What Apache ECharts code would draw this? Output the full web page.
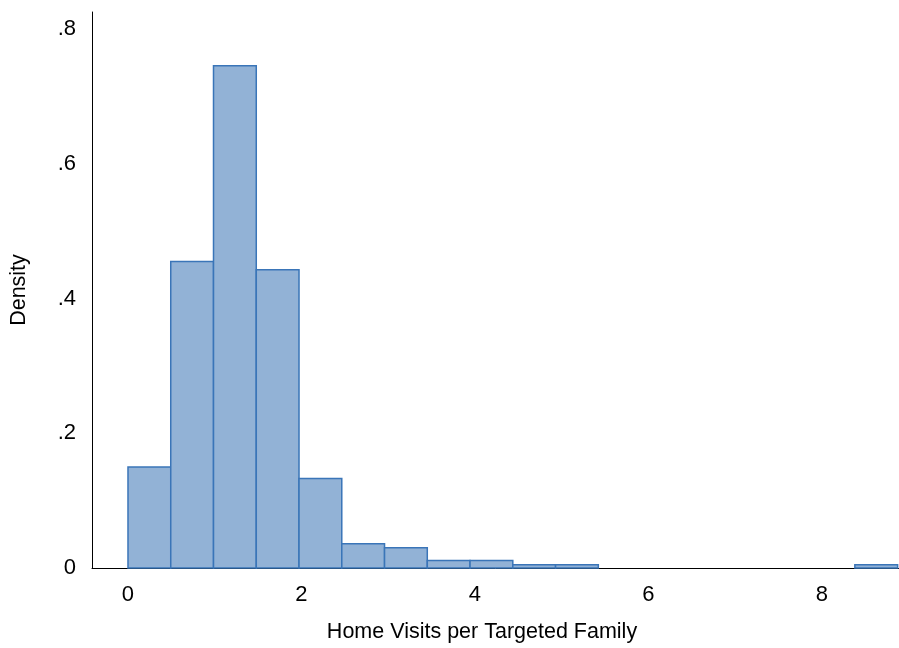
<!DOCTYPE html>
<html>
<head>
<meta charset="utf-8">
<title>Home Visits per Targeted Family</title>
<script src="https://cdn.jsdelivr.net/npm/echarts@6/dist/echarts.min.js"></script>
<style>
  html, body { margin: 0; padding: 0; background: #fff; }
  #draw { width: 899px; height: 648px; }
</style>
</head>
<body>
<div id="draw"></div>
<script>
// histogram bins: first bin starts at 0, all bins same width
var binStart = 0;
var binWidth = 0.493;
var density = [0.150, 0.455, 0.746, 0.443, 0.133, 0.036, 0.030, 0.0113, 0.0113,
               0.005, 0.005, 0, 0, 0, 0, 0, 0, 0.005];
var xTicks = [0, 2, 4, 6, 8];
var yTicks = [0, 0.2, 0.4, 0.6, 0.8];

var bins = density.map(function(d, i) {
	return [binStart + i * binWidth, binStart + (i + 1) * binWidth, d];
}).filter(function(b) { return b[2] > 0; });

var myChart = echarts.init(document.getElementById('draw'));

var option = {
	animation : false,
	grid : {
		left : 92,
		right : 0,
		top : 12,
		bottom : 74
	},
	xAxis : {
		type : 'value',
		min : -0.415,
		max : 8.89,
		name : 'Home Visits per Targeted Family',
		nameLocation : 'middle',
		nameGap : 53,
		nameTextStyle : {
			fontFamily : 'Liberation Sans',
			fontSize : 21.5,
			color : '#000',
			padding : [0, 27, 0, 0]
		},
		axisLine : { onZero : false, lineStyle : { color : '#000', width : 1 } },
		axisTick : { show : false },
		splitLine : { show : false },
		axisLabel : {
			customValues : xTicks,
			margin : 16,
			fontFamily : 'Liberation Sans',
			fontSize : 22,
			color : '#000'
		}
	},
	yAxis : {
		type : 'value',
		min : 0,
		max : 0.8257,
		name : 'Density',
		nameLocation : 'middle',
		nameGap : 62,
		nameTextStyle : {
			fontFamily : 'Liberation Sans',
			fontSize : 21.5,
			color : '#000'
		},
		axisLine : { show : true, onZero : false, lineStyle : { color : '#000', width : 1 } },
		axisTick : { show : false },
		splitLine : { show : false },
		axisLabel : {
			customValues : yTicks,
			margin : 16,
			fontFamily : 'Liberation Sans',
			fontSize : 22,
			color : '#000',
			formatter : function(v) {
				return v === 0 ? '0' : String(+v.toFixed(1)).replace(/^0/, '');
			}
		}
	},
	series : [ {
		type : 'custom',
		data : bins,
		renderItem : function(params, api) {
			var p0 = api.coord([api.value(0), api.value(2)]);
			var p1 = api.coord([api.value(1), 0]);
			return {
				type : 'rect',
				shape : {
					x : p0[0],
					y : p0[1],
					width : p1[0] - p0[0],
					height : p1[1] - p0[1]
				},
				style : {
					fill : '#92b2d6',
					stroke : '#3a75b8',
					lineWidth : 1.5
				}
			};
		}
	} ]
};

myChart.setOption(option);
</script>
</body>
</html>
